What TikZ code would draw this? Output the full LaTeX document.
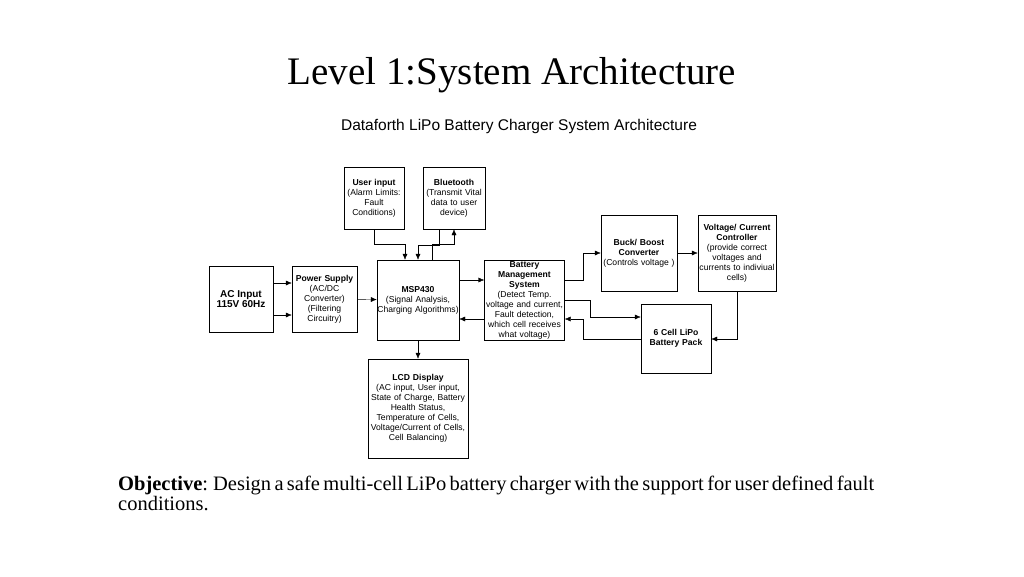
\documentclass[tikz,border=0pt]{standalone}
\usepackage{fontspec}
\setmainfont{Liberation Serif}
\setsansfont{Liberation Sans}
\usetikzlibrary{arrows.meta,positioning}
\tikzset{
  basic/.style = {draw, thin, rectangle, font=\sffamily\fontsize{8.6}{10}\selectfont, align=center, inner sep=0pt},
  link/.style  = {-{Latex[length=6pt,width=5pt]}, thin}
}
\begin{document}
\begin{tikzpicture}[x=1pt,y=-1pt,>=latex]
\useasboundingbox (0,0) rectangle (1024,576);

% title and objective
\node (title) at (512,75) {\fontsize{39}{46}\selectfont Level 1:System Architecture};
\node (sub) at (519,126) {\sffamily\fontsize{15.5}{18}\selectfont Dataforth LiPo Battery Charger System Architecture};
\node[anchor=north west, text width=790pt, align=left, inner sep=0pt] (obj) at (118,476)
  {\fontsize{20.5}{29}\selectfont\textbf{Objective}: Design a safe multi-cell LiPo battery charger with the support for user defined fault conditions.};

% blocks are placed by their centres
\node[basic, minimum width=64pt, minimum height=66pt] (ac) at (241,299) {\textbf{\fontsize{10}{12}\selectfont AC Input}\\\textbf{\fontsize{10}{12}\selectfont 115V 60Hz}};
\node[basic, minimum width=65pt, minimum height=66pt, text width=65pt] (ps) at (324.5,299) {\textbf{Power Supply}\\(AC/DC\\Converter)\\(Filtering\\Circuitry)};
\node[basic, minimum width=80pt, minimum height=80pt, text width=82pt] (msp) at (418,300) {\textbf{MSP430}\\(Signal Analysis,\\Charging Algorithms)};
\node[basic, minimum width=60pt, minimum height=62pt, text width=60pt] (user) at (374,198) {\textbf{User input}\\(Alarm Limits:\\Fault\\Conditions)};
\node[basic, minimum width=62pt, minimum height=62pt, text width=62pt] (bt) at (454,198) {\textbf{Bluetooth}\\(Transmit Vital\\data to user\\device)};
\node[basic, minimum width=79pt, minimum height=80pt, text width=80pt] (bms) at (524.5,300) {\textbf{Battery}\\\textbf{Management}\\\textbf{System}\\(Detect Temp.\\voltage and current,\\Fault detection,\\which cell receives\\what voltage)};
\node[basic, minimum width=76pt, minimum height=76pt, text width=76pt] (buck) at (639,253) {\textbf{Buck/ Boost}\\\textbf{Converter}\\(Controls voltage )};
\node[basic, minimum width=76pt, minimum height=76pt, text width=78pt] (vc) at (737,253) {\textbf{Voltage/ Current}\\\textbf{Controller}\\(provide correct\\voltages and\\currents to indiviual\\cells)};
\node[basic, minimum width=70pt, minimum height=69pt, text width=70pt] (cell) at (676,338.5) {\textbf{6 Cell LiPo}\\\textbf{Battery Pack}};
\node[basic, minimum width=98pt, minimum height=99pt, text width=100pt] (lcd) at (418,408.5) {\textbf{LCD Display}\\(AC input, User input,\\State of Charge, Battery\\Health Status,\\Temperature of Cells,\\Voltage/Current of Cells,\\Cell Balancing)};

% connectors
\draw[link] (ac.east |- 0,283) -- (ps.west |- 0,283);
\draw[link] (ac.east |- 0,315) -- (ps.west |- 0,315);
\draw[link] (ps) -- (msp);
\draw[link] (user.south) |- (405,244) -- (msp.north -| 405,0);
\draw[link] (bt.south -| 439,0) |- (418,245) -- (msp.north -| 418,0);
\draw[link] (msp.north -| 432,0) |- (454,244) -- (bt.south -| 454,0);
\draw[link] (msp.east |- 0,280) -- (bms.west |- 0,280);
\draw[link] (bms.west |- 0,319) -- (msp.east |- 0,319);
\draw[link] (bms.east |- 0,280) -| (583,253) -- (buck.west);
\draw[link] (buck) -- (vc);
\draw[link] (vc.south) |- (cell.east |- 0,339);
\draw[link] (bms.east |- 0,300) -| (590,317) -- (cell.west |- 0,317);
\draw[link] (cell.west |- 0,339) -| (583,319) -- (bms.east |- 0,319);
\draw[link] (msp) -- (lcd);
\end{tikzpicture}
\end{document}
